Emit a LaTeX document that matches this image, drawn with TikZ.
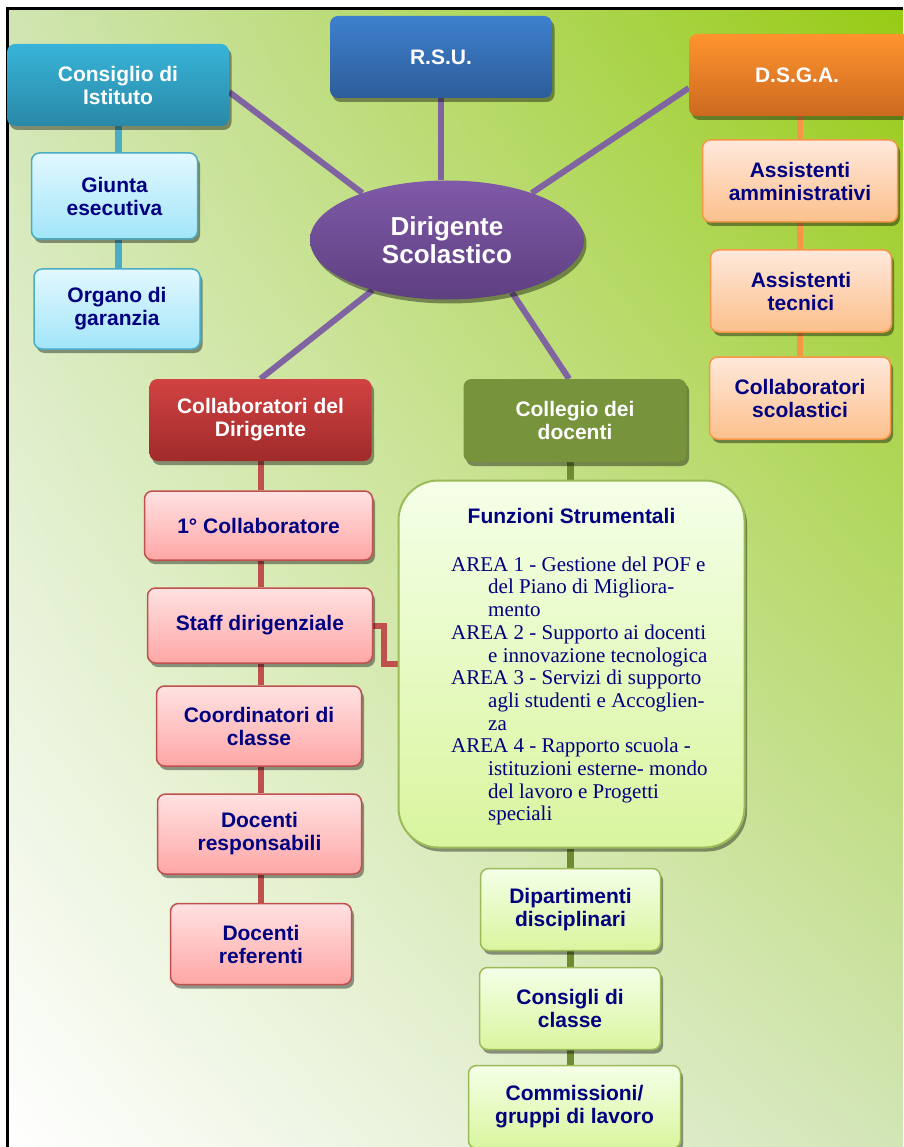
\documentclass[tikz,border=0pt]{standalone}
\usepackage{fontspec}
\setmainfont{Liberation Serif}
\setsansfont{Liberation Sans}
\usetikzlibrary{shadows,shadings,shapes.geometric,backgrounds,calc}

\definecolor{navy}{RGB}{0,0,128}
\definecolor{bgUL}{HTML}{D0E5B2}
\definecolor{bgUR}{HTML}{97CB14}
\definecolor{bgLL}{HTML}{FFFFFF}
\definecolor{bgLR}{HTML}{D2E5B6}
\definecolor{aquaT}{HTML}{37B4D8}
\definecolor{aquaB}{HTML}{2A88A7}
\definecolor{blueT}{HTML}{3E80CD}
\definecolor{blueB}{HTML}{2D5D9A}
\definecolor{orT}{HTML}{FF942E}
\definecolor{orB}{HTML}{CC6920}
\definecolor{redT}{HTML}{D24242}
\definecolor{redB}{HTML}{A02A2A}
\definecolor{olive}{HTML}{77933C}
\definecolor{purT}{HTML}{7F5AA8}
\definecolor{purB}{HTML}{5E3F80}
\definecolor{cyanT}{HTML}{E2F8FE}
\definecolor{cyanB}{HTML}{A2E5F9}
\definecolor{pinkT}{HTML}{FFE2E2}
\definecolor{pinkB}{HTML}{FFA6A6}
\definecolor{peachT}{HTML}{FFE9DC}
\definecolor{peachB}{HTML}{FCC08C}
\definecolor{lgT}{HTML}{F5FFE8}
\definecolor{lgB}{HTML}{D9F59E}
\definecolor{aquaL}{HTML}{4BACC6}
\definecolor{purL}{HTML}{8064A2}
\definecolor{orL}{HTML}{F79646}
\definecolor{redL}{HTML}{C0504D}
\definecolor{greenL}{HTML}{9BBB59}
\definecolor{oliveL}{HTML}{6E8B32}

\begin{document}
\begin{tikzpicture}[x=1pt,y=-1pt,
  box/.style={rounded corners=8pt, inner sep=2pt, align=center,
    font=\sffamily\bfseries\fontsize{21}{23}\selectfont,
    drop shadow={shadow xshift=2.5pt, shadow yshift=-4pt, fill=black, opacity=0.4}},
  dark/.style={box, text=white},
  light/.style={box, text=navy, line width=1.5pt},
  cyanbox/.style={light, draw=aquaL, top color=cyanT, bottom color=cyanB},
  pinkbox/.style={light, draw=redL, top color=pinkT, bottom color=pinkB},
  peachbox/.style={light, draw=orL, top color=peachT, bottom color=peachB},
  greenbox/.style={light, draw=greenL, top color=lgT, bottom color=lgB},
  tealline/.style={draw=aquaL, line width=7pt},
  purline/.style={draw=purL, line width=6pt},
  orline/.style={draw=orL, line width=6pt},
  redline/.style={draw=redL, line width=6pt},
  oliveline/.style={draw=oliveL, line width=7pt},
]
\useasboundingbox (0,0) rectangle (903,1147);

% ---- nodes ----
\node[dark, top color=aquaT, bottom color=aquaB, minimum width=222pt, minimum height=82pt] (cons) at (118,85) {Consiglio di\\Istituto};
\node[dark, top color=blueT, bottom color=blueB, minimum width=222pt, minimum height=82pt] (rsu) at (441,57) {R.S.U.};
\node[dark, top color=orT, bottom color=orB, minimum width=236pt, minimum height=82pt] (dsga) at (807,75) {D.S.G.A.\hspace*{20pt}};
\node[ellipse, inner sep=0pt, align=center, text=white, top color=purT, bottom color=purB,
  font=\sffamily\bfseries\fontsize{26}{28}\selectfont,
  minimum width=274pt, minimum height=119pt,
  drop shadow={shadow xshift=2.5pt, shadow yshift=-4pt, fill=black, opacity=0.4}] (dir) at (447,240) {Dirigente\\Scolastico};

\node[cyanbox, minimum width=166pt, minimum height=86pt] (giunta) at (114.5,196) {Giunta\\esecutiva};
\node[cyanbox, minimum width=166pt, minimum height=80pt] (organo) at (117,309) {Organo di\\garanzia};

\node[peachbox, minimum width=195pt, minimum height=82pt] (assamm) at (800,181) {Assistenti\\amministrativi};
\node[peachbox, minimum width=181pt, minimum height=82pt] (asstec) at (801,291) {Assistenti\\tecnici};
\node[peachbox, minimum width=181pt, minimum height=82pt] (collscol) at (800,398) {Collaboratori\\scolastici};

\node[dark, top color=redT, bottom color=redB, minimum width=222pt, minimum height=82pt] (colldir) at (260.5,420) {Collaboratori del\\Dirigente};
\node[pinkbox, minimum width=228pt, minimum height=69pt] (primo) at (258.5,525.5) {1° Collaboratore};
\node[pinkbox, minimum width=225pt, minimum height=75pt] (staff) at (260,625.5) {Staff dirigenziale};
\node[pinkbox, minimum width=205pt, minimum height=80pt] (coord) at (259,726) {Coordinatori di\\classe};
\node[pinkbox, minimum width=204pt, minimum height=80pt] (docresp) at (259.5,834) {Docenti\\responsabili};
\node[pinkbox, minimum width=181pt, minimum height=81pt] (docref) at (261,944) {Docenti\\referenti};

\node[dark, fill=olive, minimum width=223pt, minimum height=83pt] (colleg) at (575,420.5) {Collegio dei\\docenti};
\node[greenbox, rounded corners=40pt, line width=2pt, minimum width=346pt, minimum height=367pt] (funz) at (571.5,664) {};
\node[font=\sffamily\bfseries\fontsize{21}{23}\selectfont, text=navy, anchor=base, inner sep=0pt] (fstitle) at (571.5,523) {Funzioni Strumentali};
\node[font=\rmfamily\fontsize{21}{22.7}\selectfont, text=navy, anchor=north west, align=left, inner sep=0pt] (fsbody) at (451,556.5)
{AREA 1 - Gestione del POF e\\
\hspace*{37pt}del Piano di Migliora-\\
\hspace*{37pt}mento\\
AREA 2 - Supporto ai docenti\\
\hspace*{37pt}e innovazione tecnologica\\
AREA 3 - Servizi di supporto\\
\hspace*{37pt}agli studenti e Accoglien-\\
\hspace*{37pt}za\\
AREA 4 - Rapporto scuola -\\
\hspace*{37pt}istituzioni esterne- mondo\\
\hspace*{37pt}del lavoro e Progetti\\
\hspace*{37pt}speciali};

\node[greenbox, minimum width=180pt, minimum height=82pt] (dip) at (570.5,909.5) {Dipartimenti\\disciplinari};
\node[greenbox, minimum width=181pt, minimum height=82pt] (conscl) at (570,1008.5) {Consigli di\\classe};
\node[greenbox, minimum width=212pt, minimum height=83pt] (comm) at (574.5,1107) {Commissioni/\\gruppi di lavoro};

% ---- background and connectors ----
\begin{pgfonlayer}{background}
\shade[upper left=bgUL, upper right=bgUR, lower left=bgLL, lower right=bgLR] (7,9) rectangle (903,1147);
\draw[line width=3pt] (7,1147) -- (7,9) -- (903,9);

\draw[tealline] (cons.south) -- (cons.south |- giunta.north);
\draw[tealline] (cons.south |- giunta.south) -- (cons.south |- organo.north);

\draw[purline] ([yshift=-7pt]cons.east) -- (dir.151);
\draw[purline] (rsu.south) -- (rsu.south |- dir.north);
\draw[purline] ([yshift=-13pt]dsga.west) -- (dir.29.5);
\draw[purline] (dir.214) -- (colldir.north);
\draw[purline] (dir.-39) -- ([xshift=-6pt]colleg.north);

\draw[orline] (assamm.north |- dsga.south) -- (assamm.north);
\draw[orline] (assamm.south) -- (assamm.south |- asstec.north);
\draw[orline] (assamm.south |- asstec.south) -- (assamm.south |- collscol.north);

\draw[redline] (colldir.south) -- (colldir.south |- primo.north);
\draw[redline] (colldir.south |- primo.south) -- (colldir.south |- staff.north);
\draw[redline] (colldir.south |- staff.south) -- (colldir.south |- coord.north);
\draw[redline] (colldir.south |- coord.south) -- (colldir.south |- docresp.north);
\draw[redline] (colldir.south |- docresp.south) -- (colldir.south |- docref.north);
\draw[redline] (staff.east) -- ++(11,0) |- (funz.west);

\draw[oliveline] (dip.north |- colleg.south) -- (dip.north |- funz.north);
\draw[oliveline] (dip.north |- funz.south) -- (dip.north);
\draw[oliveline] (dip.south) -- (dip.south |- conscl.north);
\draw[oliveline] (dip.south |- conscl.south) -- (dip.south |- comm.north);
\end{pgfonlayer}
\end{tikzpicture}
\end{document}
